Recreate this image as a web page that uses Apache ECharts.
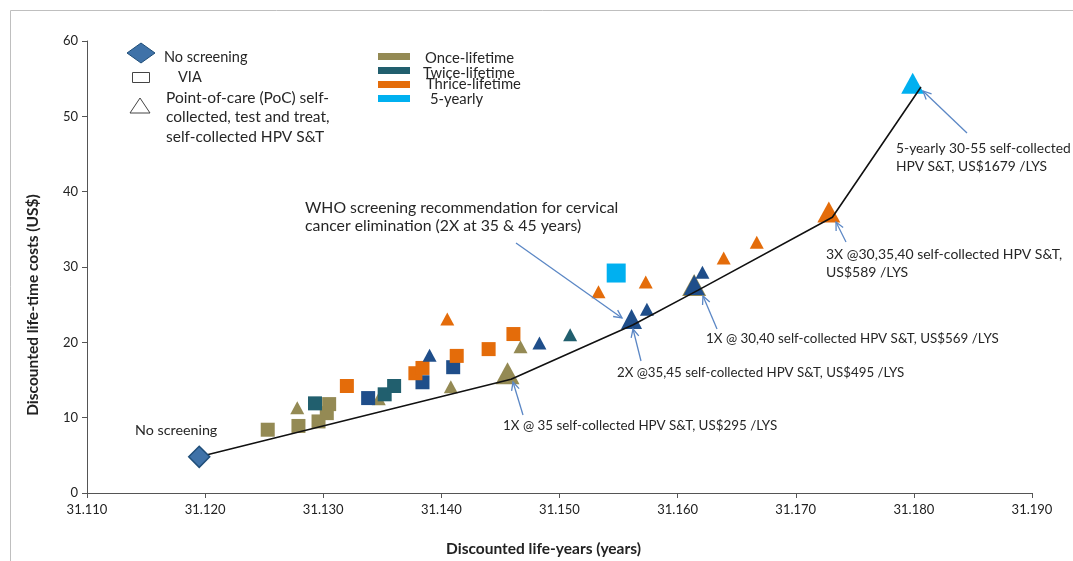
<!DOCTYPE html>
<html><head><meta charset="utf-8">
<script src="https://cdn.jsdelivr.net/npm/echarts@6/dist/echarts.min.js"></script>
<style>html,body{margin:0;padding:0;background:#fff}#c{width:1073px;height:561px}</style>
</head><body><div id="c"></div>
<script>
// ---- data ----
const noScreenX = [31.1195];
const noScreenY = [4.8];

const frontierLineX = [31.1195, 31.1459, 31.1562, 31.1617, 31.1731, 31.1806];
const frontierLineY = [4.8, 15.1, 22.3, 26.9, 36.6, 53.9];

// big frontier markers
const onceFrontX = [31.1456, 31.1614];
const onceFrontY = [15.9, 27.6];
const twiceFrontX = [31.1561, 31.1614];
const twiceFrontY = [23.1, 27.6];
const thriceFrontX = [31.1728];
const thriceFrontY = [37.3];
const yearly5FrontX = [31.1799];
const yearly5FrontY = [54.4];

// Once-lifetime (olive)
const onceViaX = [31.1253, 31.1279, 31.1296, 31.1303, 31.1305];
const onceViaY = [8.4, 8.9, 9.5, 10.6, 11.8];
const oncePocX = [31.1278, 31.1347, 31.1408, 31.1467];
const oncePocY = [11.3, 12.5, 14.1, 19.4];

// Twice-lifetime (teal)
const twiceViaX = [31.1293, 31.1352, 31.1360];
const twiceViaY = [11.9, 13.1, 14.2];
const twicePocX = [31.1509];
const twicePocY = [21.0];

// Twice-lifetime, other ages (navy)
const twiceBViaX = [31.1338, 31.1384, 31.1410];
const twiceBViaY = [12.6, 14.7, 16.7];
const twiceBPocX = [31.1390, 31.1483, 31.1574, 31.1621];
const twiceBPocY = [18.3, 19.9, 24.4, 29.3];

// Thrice-lifetime (orange)
const thriceViaX = [31.1320, 31.1378, 31.1384, 31.1413, 31.1440, 31.1461];
const thriceViaY = [14.2, 15.9, 16.6, 18.2, 19.1, 21.1];
const thricePocX = [31.1405, 31.1533, 31.1573, 31.1639, 31.1667];
const thricePocY = [23.1, 26.7, 28.0, 31.2, 33.3];

// 5-yearly (cyan)
const yearly5ViaX = [31.1548];
const yearly5ViaY = [29.2];

const xMin = 31.110, xMax = 31.190, xStep = 0.01;
const yMin = 0, yMax = 60, yStep = 10;

// ---- styles ----
const C_ONCE = '#948A54', C_TWICE = '#215F6E', C_TWICE_B = '#1F4E8A', C_THRICE = '#E46C0A', C_5Y = '#00B0F0';
const FONT = 'Lato';
const zip = (xs, ys) => xs.map((x, i) => [x, ys[i]]);

function sc(name, xs, ys, symbol, size, color, z, border) {
  return {
    name, type: 'scatter', data: zip(xs, ys), symbol, symbolSize: size, z: z || 3,
    itemStyle: { color, opacity: 1, borderColor: border || color, borderWidth: border ? 1.5 : 0 },
    emphasis: { disabled: true }, silent: true
  };
}

const chart = echarts.init(document.getElementById('c'), null, { renderer: 'canvas' });

const option = {
  animation: false,
  backgroundColor: '#fff',
  grid: { left: 87, right: 41, top: 41, bottom: 68, containLabel: false, outerBoundsMode: 'none' },
  xAxis: {
    type: 'value', min: xMin, max: xMax, interval: xStep,
    axisLine: { show: true, lineStyle: { color: '#555', width: 1 } },
    axisTick: { show: true, length: 5, lineStyle: { color: '#555' } },
    splitLine: { show: false },
    axisLabel: { color: '#222', fontFamily: FONT, fontSize: 13, margin: 10, formatter: v => v.toFixed(3) },
    name: 'Discounted life-years (years)', nameLocation: 'middle', nameGap: 48,
    nameTextStyle: { color: '#222', fontFamily: FONT, fontSize: 15.5, fontWeight: 'bold', padding: [0, 32, 0, 0] }
  },
  yAxis: {
    type: 'value', min: yMin, max: yMax, interval: yStep,
    axisLine: { show: true, lineStyle: { color: '#555', width: 1 } },
    axisTick: { show: true, length: 5, lineStyle: { color: '#555' } },
    splitLine: { show: false },
    axisLabel: { color: '#222', fontFamily: FONT, fontSize: 13, margin: 9 }
  },
  series: [
    sc('Once VIA', onceViaX, onceViaY, 'rect', 14, C_ONCE),
    sc('Once PoC', oncePocX, oncePocY, 'triangle', [14, 13], C_ONCE),
    sc('Twice VIA', twiceViaX, twiceViaY, 'rect', 14, C_TWICE),
    sc('Twice PoC', twicePocX, twicePocY, 'triangle', [14, 13], C_TWICE),
    sc('Twice B VIA', twiceBViaX, twiceBViaY, 'rect', 14, C_TWICE_B),
    sc('Thrice VIA', thriceViaX, thriceViaY, 'rect', 14, C_THRICE),
    sc('Thrice PoC', thricePocX, thricePocY, 'triangle', [14, 13], C_THRICE),
    sc('5-yearly VIA', yearly5ViaX, yearly5ViaY, 'rect', 19, C_5Y),
    sc('Once frontier', onceFrontX, onceFrontY, 'triangle', [24, 22], C_ONCE, 4),
    sc('Twice B PoC', twiceBPocX, twiceBPocY, 'triangle', [14, 13], C_TWICE_B, 5),
    sc('Twice frontier', twiceFrontX, twiceFrontY, 'triangle', [21, 20], C_TWICE_B, 5),
    sc('Thrice frontier', thriceFrontX, thriceFrontY, 'triangle', [23, 21], C_THRICE, 5),
    sc('5-yearly frontier', yearly5FrontX, yearly5FrontY, 'triangle', [23, 21], C_5Y, 5),
    {
      name: 'Frontier', type: 'line', data: zip(frontierLineX, frontierLineY), z: 6,
      symbol: 'none', lineStyle: { color: '#111', width: 1.6 }, silent: true
    },
    sc('No screening', noScreenX, noScreenY, 'diamond', 21, '#3F72A8', 7, '#1F4E79')
  ],
  graphic: []
};
chart.setOption(option);

// ---- annotations & legend (graphic) ----
const ARROW = '#5B87C5';
const TXT = '#262626';
function txt(s, x, y, size, weight) {
  return { type: 'text', z: 100, style: { text: s, x, y, fill: TXT, font: (weight || 'normal') + ' ' + (size || 14) + 'px ' + FONT, verticalAlign: 'middle', align: 'left' } };
}
function arrow(x1, y1, x2, y2) {
  const a = Math.atan2(y2 - y1, x2 - x1), L = 9, w = 0.45;
  const h1 = [x2 - L * Math.cos(a - w), y2 - L * Math.sin(a - w)];
  const h2 = [x2 - L * Math.cos(a + w), y2 - L * Math.sin(a + w)];
  return [
    { type: 'line', z: 100, shape: { x1, y1, x2, y2 }, style: { stroke: ARROW, lineWidth: 1.3 } },
    { type: 'polyline', z: 100, shape: { points: [h1, [x2, y2], h2] }, style: { stroke: ARROW, lineWidth: 1.3, fill: null } }
  ];
}
const g = [];
// outer frame
g.push({ type: 'rect', z: 0, shape: { x: 10.5, y: 10.5, width: 1100, height: 600 }, style: { fill: null, stroke: '#BFBFBF', lineWidth: 1 } });
// y axis title
g.push({ type: 'text', z: 100, x: 33, y: 305, rotation: Math.PI / 2, style: { text: 'Discounted life-time costs (US$)', fill: '#222', font: 'bold 15.5px ' + FONT, align: 'center', verticalAlign: 'middle' } });
// shape legend
g.push({ type: 'polygon', z: 100, shape: { points: [[141, 43], [155, 53], [141, 63], [127, 53]] }, style: { fill: '#3F72A8', stroke: '#1F4E79', lineWidth: 1 } });
g.push(txt('No screening', 164, 57, 14.5));
g.push({ type: 'rect', z: 100, shape: { x: 132.5, y: 72.5, width: 17, height: 10 }, style: { fill: '#fff', stroke: '#444', lineWidth: 1 } });
g.push(txt('VIA', 178, 77, 14.5));
g.push({ type: 'polygon', z: 100, shape: { points: [[140, 98], [150, 113], [130, 113]] }, style: { fill: '#fff', stroke: '#444', lineWidth: 1 } });
g.push(txt('Point-of-care (PoC) self-', 166, 98, 15.5));
g.push(txt('collected, test and treat,', 166, 117, 15.5));
g.push(txt('self-collected HPV S&T', 166, 137, 15.5));
// colour legend
[[C_ONCE, 53, 'Once-lifetime', 425, 58], [C_TWICE, 67, 'Twice-lifetime', 423, 73], [C_THRICE, 81, 'Thrice-lifetime', 426, 84], [C_5Y, 95, '5-yearly', 430, 99]].forEach(r => {
  g.push({ type: 'rect', z: 100, shape: { x: 378, y: r[1], width: 32, height: 7 }, style: { fill: r[0] } });
  g.push(txt(r[2], r[3], r[4], 14.8));
});
// annotations
g.push(txt('No screening', 135, 430, 14.3));
g.push(txt('WHO screening recommendation for cervical', 305, 208, 15.8));
g.push(txt('cancer elimination (2X at 35 & 45 years)', 305, 226, 15.8));
g.push(...arrow(516, 243, 622, 318));
g.push(txt('2X @35,45 self-collected HPV S&T, US$495 /LYS', 617, 373, 13.3));
g.push(...arrow(641, 361, 633, 329));
g.push(txt('1X @ 35 self-collected HPV S&T, US$295 /LYS', 503, 426, 13.4));
g.push(...arrow(523, 415, 513, 382));
g.push(txt('1X @ 30,40 self-collected HPV S&T, US$569 /LYS', 706, 339, 13.4));
g.push(...arrow(717, 329, 703, 296));
g.push(txt('3X @30,35,40 self-collected HPV S&T,', 826, 254, 14));
g.push(txt('US$589 /LYS', 826, 272, 14));
g.push(...arrow(846, 242, 836, 222));
g.push(txt('5-yearly 30-55 self-collected', 896, 149, 13.8));
g.push(txt('HPV S&T, US$1679 /LYS', 896, 167, 13.8));
g.push(...arrow(967, 133, 923, 91));
chart.setOption({ graphic: g });
</script>
</body></html>
